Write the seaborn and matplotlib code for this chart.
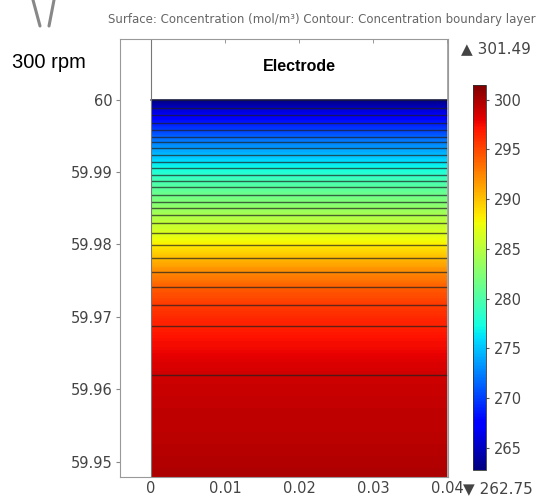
import numpy as np
import matplotlib
matplotlib.use("Agg")
import matplotlib.pyplot as plt
import matplotlib.colors as mcolors
from matplotlib.lines import Line2D
import seaborn as sns

# ---- data ----
x_domain = [0.0, 0.04]
y_profile = [60.0, 59.99883, 59.99786, 59.99675, 59.99579, 59.99482, 59.99413,
             59.99330, 59.99233, 59.99137, 59.99054, 59.98957, 59.98874, 59.98791,
             59.98681, 59.98584, 59.98501, 59.98405, 59.98294, 59.98156, 59.97990,
             59.97811, 59.97617, 59.97410, 59.97162, 59.96872, 59.96195, 59.94786]
conc_profile = [262.75, 265.1, 267.0, 268.6, 270.0, 271.4, 272.4,
                273.5, 274.8, 276.1, 277.2, 278.5, 279.5, 280.4,
                281.4, 282.3, 283.2, 284.25, 285.4, 286.6, 288.3,
                290.3, 292.3, 294.1, 295.6, 296.7, 298.8, 299.9]
c_min, c_max = 262.75, 301.49
x_ticks = [0, 0.01, 0.02, 0.03, 0.04]
x_ticklabels = ["0", "0.01", "0.02", "0.03", "0.04"]
y_ticks = [59.95, 59.96, 59.97, 59.98, 59.99, 60.0]
y_ticklabels = ["59.95", "59.96", "59.97", "59.98", "59.99", "60"]
cbar_ticks = [265, 270, 275, 280, 285, 290, 295, 300]
title = "Surface: Concentration (mol/m\u00b3) Contour: Concentration boundary layer"

sns.set_style("white")
plt.rcParams["font.family"] = ["DejaVu Sans"]

W, H = 549, 499
fig = plt.figure(figsize=(W / 100, H / 100), dpi=100)

def fx(px):
    return px / W

def fy(py):
    return 1 - py / H

ax = fig.add_axes([fx(120), fy(477), fx(448) - fx(120), fy(39) - fy(477)])

X, Y = np.meshgrid(np.array(x_domain), np.array(y_profile))
Z = np.tile(np.array(conc_profile)[:, None], (1, len(x_domain)))

cmap = plt.get_cmap("jet")
norm = mcolors.Normalize(vmin=c_min, vmax=c_max)
ax.contourf(X, Y, Z, levels=np.linspace(c_min, c_max, 300), cmap=cmap, norm=norm,
            antialiased=False)
line_levels = [c - 0.001 for c in conc_profile[1:-1]]
ax.contour(X, Y, Z, levels=line_levels, colors="#202020", linewidths=1.0, alpha=0.7)

# domain boundaries
ax.plot([0.0, 0.04], [60.0, 60.0], color="#1a1a40", lw=1.2)
ax.axvline(0.0, color="#777777", lw=0.8)
ax.plot([0.04, 0.04], [59.94786, 60.00836], color="#999999", lw=0.6)

ax.set_xlim(-0.00419, 0.04014)
ax.set_ylim(59.94786, 60.00836)
ax.set_xticks(x_ticks)
ax.set_xticklabels(x_ticklabels)
ax.set_yticks(y_ticks)
ax.set_yticklabels(y_ticklabels)
ax.tick_params(axis="both", labelsize=10.5, labelcolor="#444444", colors="#888888")
ax.tick_params(axis="y", direction="out", length=3, width=0.8, left=True, pad=2)
ax.tick_params(axis="x", direction="in", length=3, width=0.6, bottom=False, top=True,
               labelbottom=True, pad=3)
for s in ax.spines.values():
    s.set_color("#999999")
    s.set_linewidth(0.8)

ax.text(0.02, 60.0045, "Electrode", ha="center", va="center", fontsize=11.5,
        fontweight="bold", family="Liberation Sans", color="black")

# colorbar
cax = fig.add_axes([fx(473), fy(470), fx(486) - fx(473), fy(85) - fy(470)])
sm = matplotlib.cm.ScalarMappable(norm=norm, cmap=cmap)
cb = fig.colorbar(sm, cax=cax, ticks=cbar_ticks)
cb.ax.tick_params(labelsize=10.5, labelcolor="#444444", length=2, color="#555555", pad=4)
cb.outline.set_edgecolor("#333333")
cb.outline.set_linewidth(0.6)

fig.text(fx(461), fy(49), "\u25b2 " + f"{c_max:.2f}", ha="left", va="center",
         fontsize=11, color="#444444")
fig.text(fx(463), fy(489), "\u25bc " + f"{c_min:.2f}", ha="left", va="center",
         fontsize=11, color="#444444")

fig.text(fx(108), fy(19), title, ha="left", va="center", fontsize=8.5, color="#666666")
fig.text(fx(49), fy(62), "300 rpm", ha="center", va="center", fontsize=14.5,
         family="Liberation Sans", color="black")

# partial sketch at the top-left corner
fig.add_artist(Line2D([fx(33), fx(40)], [fy(0), fy(26)], color="#888888", lw=2.2))
fig.add_artist(Line2D([fx(54), fx(49)], [fy(0), fy(26)], color="#888888", lw=2.2))

fig.savefig("out.png", dpi=100, facecolor="white")
